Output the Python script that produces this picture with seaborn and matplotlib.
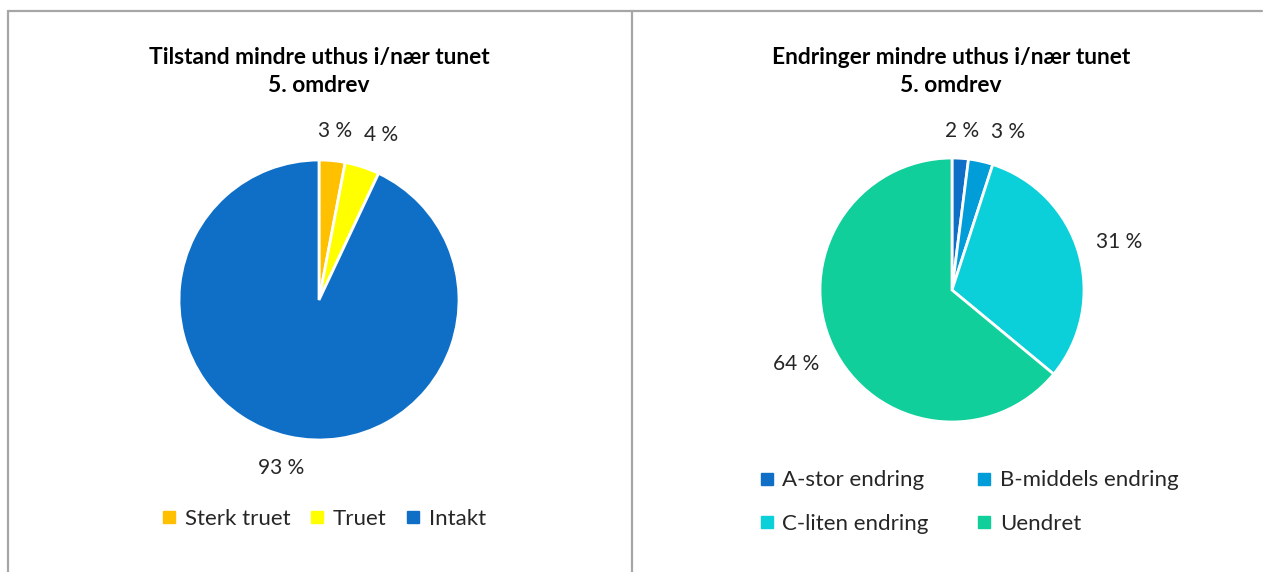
import numpy as np
import matplotlib
matplotlib.use("Agg")
import matplotlib.pyplot as plt
import seaborn as sns
from matplotlib.lines import Line2D

sns.set_theme(style="white")
plt.rcParams['font.family'] = ['Lato', 'DejaVu Sans']

# ---- data ----
left_title = "Tilstand mindre uthus i/nær tunet\n5. omdrev"
left_labels = ["Sterk truet", "Truet", "Intakt"]
left_values = [3, 4, 93]
left_colors = ["#FFC000", "#FFFF00", "#0F6FC6"]

right_title = "Endringer mindre uthus i/nær tunet\n5. omdrev"
right_labels = ["A-stor endring", "B-middels endring", "C-liten endring", "Uendret"]
right_values = [2, 3, 31, 64]
right_colors = ["#0F6FC6", "#009DD9", "#0BD0D9", "#10CF9B"]

W, H = 1263, 572
fig = plt.figure(figsize=(W / 100, H / 100), dpi=100)
fig.patch.set_facecolor("white")

# frame lines
gray = "#A6A6A6"
def px_line(x0, y0, x1, y1):
    fig.add_artist(Line2D([x0 / W, x1 / W], [1 - y0 / H, 1 - y1 / H],
                          color=gray, lw=1.6, transform=fig.transFigure))
px_line(7.5, 10.5, 1262, 10.5)
px_line(7.5, 10.5, 7.5, 572)
px_line(631.5, 10.5, 631.5, 572)

renderer = fig.canvas.get_renderer()


def draw_pie(cx, cy, r, values, colors, title, tx):
    ax = fig.add_axes([(cx - r) / W, 1 - (cy + r) / H, 2 * r / W, 2 * r / H])
    wedges, _ = ax.pie(values, colors=colors, startangle=90, counterclock=False,
                       radius=1, wedgeprops=dict(edgecolor="white", linewidth=2))
    ax.set_xlim(-1, 1)
    ax.set_ylim(-1, 1)
    ax.set_aspect("equal")
    ax.axis("off")
    texts = []
    for w, v in zip(wedges, values):
        ang = np.deg2rad((w.theta1 + w.theta2) / 2)
        d = 1.2 + 0.12 * abs(np.cos(ang))
        t = ax.text(d * np.cos(ang), d * np.sin(ang), f"{v} %", ha="center", va="center",
                    fontsize=15, color="#262626", clip_on=False)
        texts.append(t)
    # simple collision rule: keep a minimum gap between neighbouring labels
    min_gap = 12
    for a, b in zip(texts[:-1], texts[1:]):
        ba = a.get_window_extent(renderer)
        bb = b.get_window_extent(renderer)
        vert_overlap = ba.y0 < bb.y1 and bb.y0 < ba.y1
        if vert_overlap and bb.x0 < ba.x1 + min_gap and bb.x1 > ba.x0:
            shift_px = ba.x1 + min_gap - bb.x0
            x, y = b.get_position()
            b.set_position((x + shift_px / r, y))
    fig.text(tx / W, 1 - 71.5 / H, title, ha="center", va="center", fontsize=16.4,
             fontweight="bold", color="black", linespacing=1.45)
    return wedges


draw_pie(319, 300, 140, left_values, left_colors, left_title, 319)
draw_pie(952, 290, 132, right_values, right_colors, right_title, 951)


def handles(colors, labels):
    return [Line2D([], [], marker="s", linestyle="", markersize=8, markerfacecolor=c,
                   markeredgecolor=c, label=l) for c, l in zip(colors, labels)]

fig.legend(handles=handles(left_colors, left_labels), loc="center",
           bbox_to_anchor=(323 / W, 1 - 519 / H), ncol=3, frameon=False,
           fontsize=16, handlelength=0.8, handletextpad=0.3, columnspacing=0.8,
           labelcolor="#262626")

order = [0, 2, 1, 3]
fig.legend(handles=[handles(right_colors, right_labels)[i] for i in order], loc="center",
           bbox_to_anchor=(968 / W, 1 - 502 / H), ncol=2, frameon=False,
           fontsize=16, handlelength=0.8, handletextpad=0.3, columnspacing=2.1,
           labelspacing=1.05, labelcolor="#262626")

fig.savefig("out.png", dpi=100, facecolor="white")
